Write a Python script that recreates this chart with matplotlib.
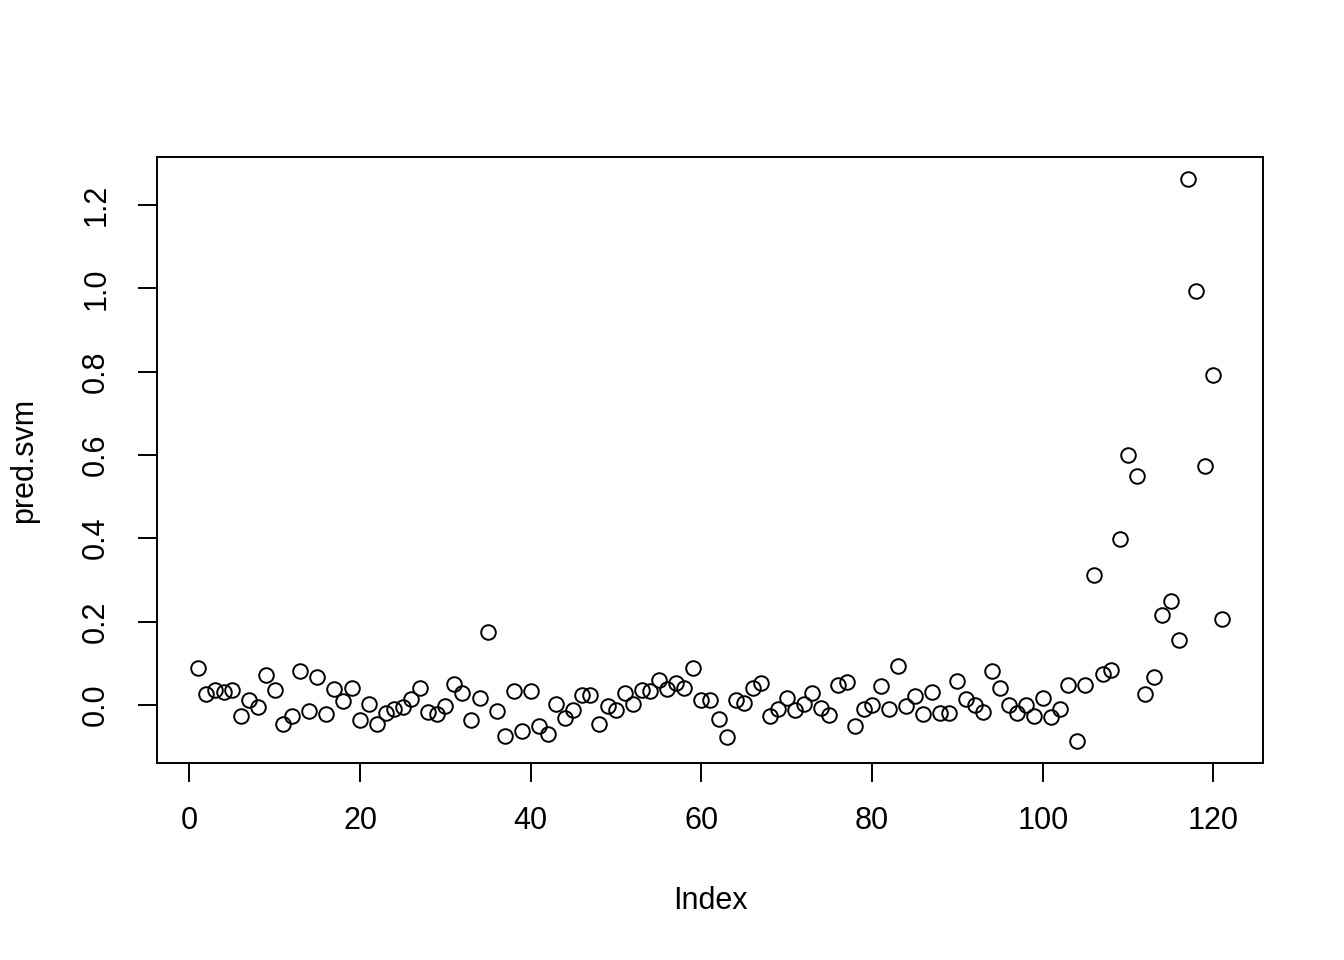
import numpy as np
import matplotlib
matplotlib.use("Agg")
import matplotlib.pyplot as plt

plt.rcParams["font.family"] = ["Liberation Sans", "DejaVu Sans"]

# predicted values (index 1..121)
pred_svm = [
    0.089, 0.026, 0.036, 0.031, 0.036, -0.026, 0.012, -0.005, 0.072, 0.036,
    -0.046, -0.026, 0.082, -0.014, 0.067, -0.022, 0.038, 0.010, 0.041, -0.036,
    0.002, -0.046, -0.019, -0.010, -0.005, 0.014, 0.041, -0.017, -0.022, -0.002,
    0.050, 0.029, -0.036, 0.017, 0.175, -0.014, -0.074, 0.034, -0.062, 0.034,
    -0.050, -0.070, 0.002, -0.031, -0.012, 0.024, 0.024, -0.046, -0.002, -0.012,
    0.029, 0.002, 0.036, 0.034, 0.060, 0.038, 0.053, 0.041, 0.089, 0.012,
    0.012, -0.034, -0.077, 0.012, 0.005, 0.041, 0.053, -0.026, -0.010, 0.017,
    -0.012, 0.002, 0.029, -0.007, -0.024, 0.048, 0.055, -0.050, -0.010, 0.000,
    0.046, -0.010, 0.094, -0.002, 0.022, -0.022, 0.031, -0.019, -0.019, 0.058,
    0.014, 0.000, -0.017, 0.082, 0.041, 0.000, -0.019, 0.000, -0.026, 0.017,
    -0.029, -0.010, 0.048, -0.086, 0.048, 0.312, 0.074, 0.084, 0.398, 0.600,
    0.550, 0.026, 0.067, 0.216, 0.250, 0.156, 1.262, 0.994, 0.574, 0.792,
    0.206,
]
index = np.arange(1, len(pred_svm) + 1)

x_ticks = [0, 20, 40, 60, 80, 100, 120]
y_ticks = [0.0, 0.2, 0.4, 0.6, 0.8, 1.0, 1.2]

fig = plt.figure(figsize=(13.44, 9.6), dpi=100)
ax = fig.add_axes([0.1168, 0.2052, 0.8229, 0.6313])

ax.plot(index, pred_svm, linestyle="none", marker="o", markersize=10.5,
        markerfacecolor="none", markeredgecolor="black", markeredgewidth=1.4)

# R-style 4% padding
xr = index.max() - index.min()
ax.set_xlim(index.min() - 0.04 * xr, index.max() + 0.04 * xr)
yr = max(pred_svm) - min(pred_svm)
ax.set_ylim(min(pred_svm) - 0.04 * yr, max(pred_svm) + 0.04 * yr)

ax.set_xticks(x_ticks)
ax.set_yticks(y_ticks)
ax.set_xticklabels([str(t) for t in x_ticks])
ax.set_yticklabels([f"{t:.1f}" for t in y_ticks], rotation=90, va="center")
ax.tick_params(direction="out", length=14, width=1.4, labelsize=22, pad=17)
ax.tick_params(axis="y", pad=19)
for s in ax.spines.values():
    s.set_linewidth(1.4)

ax.set_xlabel("Index", fontsize=22, labelpad=36)
ax.set_ylabel("pred.svm", fontsize=22, labelpad=30)

fig.savefig("out.png", dpi=100)
